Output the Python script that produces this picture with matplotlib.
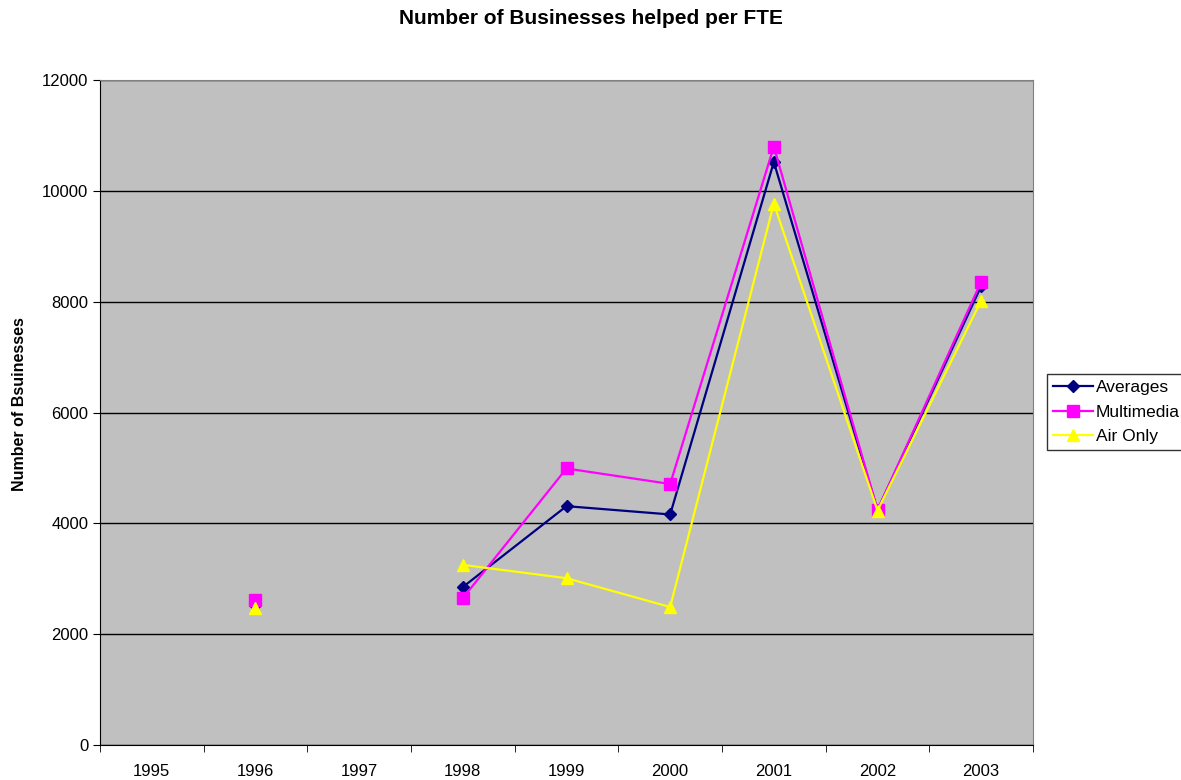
import numpy as np
import matplotlib
matplotlib.use('Agg')
import matplotlib.pyplot as plt

plt.rcParams['font.family'] = ['Liberation Sans', 'DejaVu Sans']

# データ
years = ['1995', '1996', '1997', '1998', '1999', '2000', '2001', '2002', '2003']
averages = [np.nan, 2530, np.nan, 2850, 4310, 4160, 10520, 4240, 8280]
multimedia = [np.nan, 2620, np.nan, 2650, 4990, 4710, 10800, 4240, 8360]
air_only = [np.nan, 2470, np.nan, 3250, 3010, 2490, 9770, 4230, 8020]

fig = plt.figure(figsize=(11.81, 7.8), dpi=100)
ax = fig.add_axes([100 / 1181, 1 - 745 / 780, 933 / 1181, 665 / 780])
ax.set_facecolor('#C0C0C0')

x = np.arange(len(years))
ax.plot(x, averages, color='#000080', marker='D', ms=6, lw=1.6, label='Averages')
ax.plot(x, multimedia, color='#FF00FF', marker='s', ms=8, lw=1.6, label='Multimedia')
ax.plot(x, air_only, color='#FFFF00', marker='^', ms=8, lw=1.6, label='Air Only')

ax.set_xlim(-0.5, len(years) - 0.5)
ax.set_ylim(0, 12000)
ax.set_yticks(range(0, 12001, 2000))
ax.set_xticks(x)
ax.set_xticklabels(years, fontsize=12)
ax.set_xticks(np.arange(-0.5, len(years)), minor=True)
ax.tick_params(axis='x', which='major', length=0, pad=14)
ax.tick_params(axis='x', which='minor', length=5, direction='out')
ax.tick_params(axis='y', labelsize=12, length=5)
ax.grid(axis='y', color='black', lw=1)
ax.set_axisbelow(True)
for s in ['top', 'right']:
    ax.spines[s].set_color('#808080')
for s in ['left', 'bottom']:
    ax.spines[s].set_color('black')

ax.set_ylabel('Number of Bsuinesses', fontsize=11.5, fontweight='bold')
ax.yaxis.set_label_coords(-73 / 933, (745 - 404) / 665)
fig.text(0.5, 1 - 18 / 780, 'Number of Businesses helped per FTE',
         ha='center', va='center', fontsize=15, fontweight='bold')

leg = ax.legend(loc='center left', bbox_to_anchor=(947 / 933, (745 - 412) / 665),
                fontsize=12.5, frameon=True, fancybox=False, edgecolor='black',
                handlelength=2.3, handletextpad=0.15, borderpad=0.35,
                labelspacing=0.55, borderaxespad=0)
leg.get_frame().set_linewidth(1)

plt.savefig('out.png', dpi=100)
